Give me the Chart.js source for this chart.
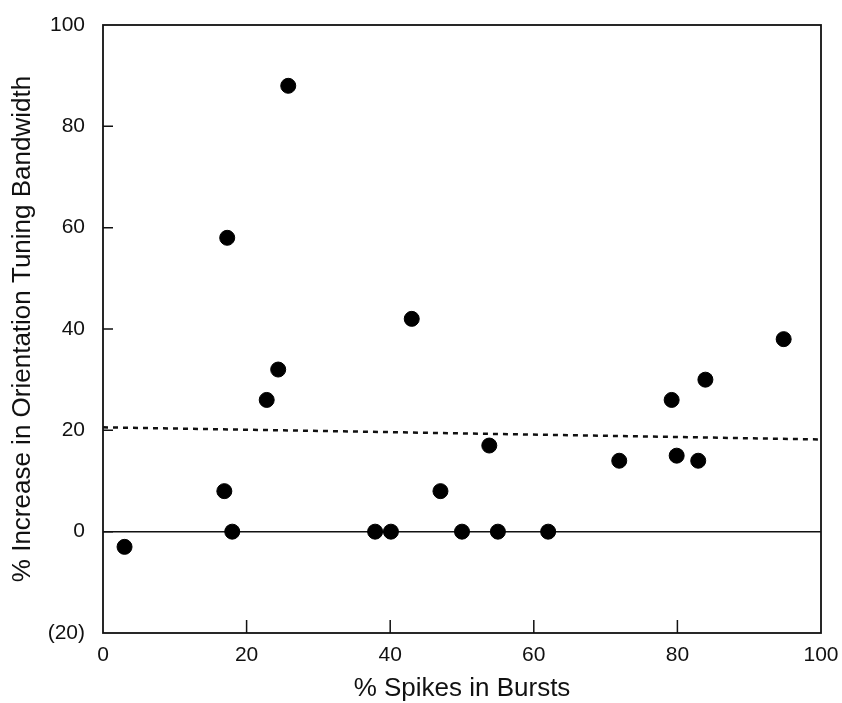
<!DOCTYPE html>
<html>
<head>
<meta charset="utf-8">
<script src="https://cdn.jsdelivr.net/npm/chart.js@4"></script>
<style>
  html, body { margin: 0; padding: 0; background: #fff; }
  #wrap { width: 842px; height: 703px; }
</style>
</head>
<body>
<div id="wrap"><canvas id="chart" width="842" height="703"></canvas></div>
<script>
// Scatter: % spikes in bursts vs % increase in orientation tuning bandwidth

const burstPct = [3, 16.9, 18, 22.8, 24.4, 25.8, 17.3, 43, 37.9, 40.1, 47, 50, 55, 53.8, 62, 71.9, 79.2, 79.9, 82.9, 83.9, 94.8];
const bandwidthIncrease = [-3, 8, 0, 26, 32, 88, 58, 42, 0, 0, 8, 0, 0, 17, 0, 14, 26, 15, 14, 30, 38];

// regression (dotted) and zero reference line
const fitX = [0, 100];
const fitY = [20.6, 18.2];
const zeroX = [0, 100];
const zeroY = [0, 0];

const xTicks = [0, 20, 40, 60, 80, 100];
const yTicks = [-20, 0, 20, 40, 60, 80, 100];

const FONT = '"Liberation Sans", Arial, Helvetica, sans-serif';
const INK = '#111';

const toPoints = (xs, ys) => xs.map((x, i) => ({ x, y: ys[i] }));

// frame around the plot plus inward-pointing tick marks
const framePlugin = {
  id: 'frame',
  afterDatasetsDraw(chart) {
    const { ctx, chartArea: a, scales: { x, y } } = chart;
    ctx.save();
    ctx.strokeStyle = INK;
    ctx.lineWidth = 1.8;
    ctx.strokeRect(a.left, a.top, a.right - a.left, a.bottom - a.top);
    ctx.lineWidth = 1.5;
    ctx.beginPath();
    xTicks.slice(1, -1).forEach(v => {
      const px = x.getPixelForValue(v);
      ctx.moveTo(px, a.bottom);
      ctx.lineTo(px, a.bottom - 13);
    });
    yTicks.slice(1, -1).forEach(v => {
      const py = y.getPixelForValue(v);
      ctx.moveTo(a.left, py);
      ctx.lineTo(a.left + 10, py);
    });
    ctx.stroke();
    ctx.restore();
  }
};

new Chart(document.getElementById('chart'), {
  type: 'scatter',
  data: {
    datasets: [
      {
        label: 'Cells',
        data: toPoints(burstPct, bandwidthIncrease),
        backgroundColor: '#000',
        borderColor: '#000',
        pointRadius: 7.5,
        pointHoverRadius: 7.5,
        showLine: false,
      },
      {
        label: 'Fit',
        data: toPoints(fitX, fitY),
        borderColor: INK,
        borderWidth: 2.5,
        borderDash: [5, 5],
        pointRadius: 0,
        showLine: true,
      },
      {
        label: 'Zero',
        data: toPoints(zeroX, zeroY),
        borderColor: INK,
        borderWidth: 1.5,
        pointRadius: 0,
        showLine: true,
      },
    ],
  },
  options: {
    responsive: false,
    animation: false,
    layout: { padding: { top: 25, right: 21, left: 0, bottom: 0 } },
    plugins: {
      legend: { display: false },
      tooltip: { enabled: false },
    },
    scales: {
      x: {
        type: 'linear',
        min: 0,
        max: 100,
        afterBuildTicks: s => { s.ticks = xTicks.map(value => ({ value })); },
        afterFit: s => { s.height = 70; s.paddingLeft = 0; s.paddingRight = 0; },
        grid: { display: true, drawOnChartArea: false, tickLength: 0 },
        border: { display: false },
        ticks: {
          color: INK,
          padding: 10,
          maxRotation: 0,
          font: { family: FONT, size: 21 },
        },
        title: {
          display: true,
          text: '% Spikes in Bursts',
          color: INK,
          padding: { top: 0, bottom: 0 },
          font: { family: FONT, size: 26, lineHeight: 1.1 },
        },
      },
      y: {
        type: 'linear',
        min: -20,
        max: 100,
        afterBuildTicks: s => { s.ticks = yTicks.map(value => ({ value })); },
        afterFit: s => { s.width = 103; s.paddingTop = 0; s.paddingBottom = 0; },
        grid: { display: true, drawOnChartArea: false, tickLength: 0 },
        border: { display: false },
        ticks: {
          color: INK,
          padding: 18,
          font: { family: FONT, size: 21 },
          callback: v => (v < 0 ? '(' + (-v) + ')' : String(v)),
        },
        title: {
          display: true,
          text: '% Increase in Orientation Tuning Bandwidth',
          color: INK,
          padding: { top: 9, bottom: 0 },
          font: { family: FONT, size: 26, lineHeight: 1.1 },
        },
      },
    },
  },
  plugins: [framePlugin],
});
</script>
</body>
</html>
